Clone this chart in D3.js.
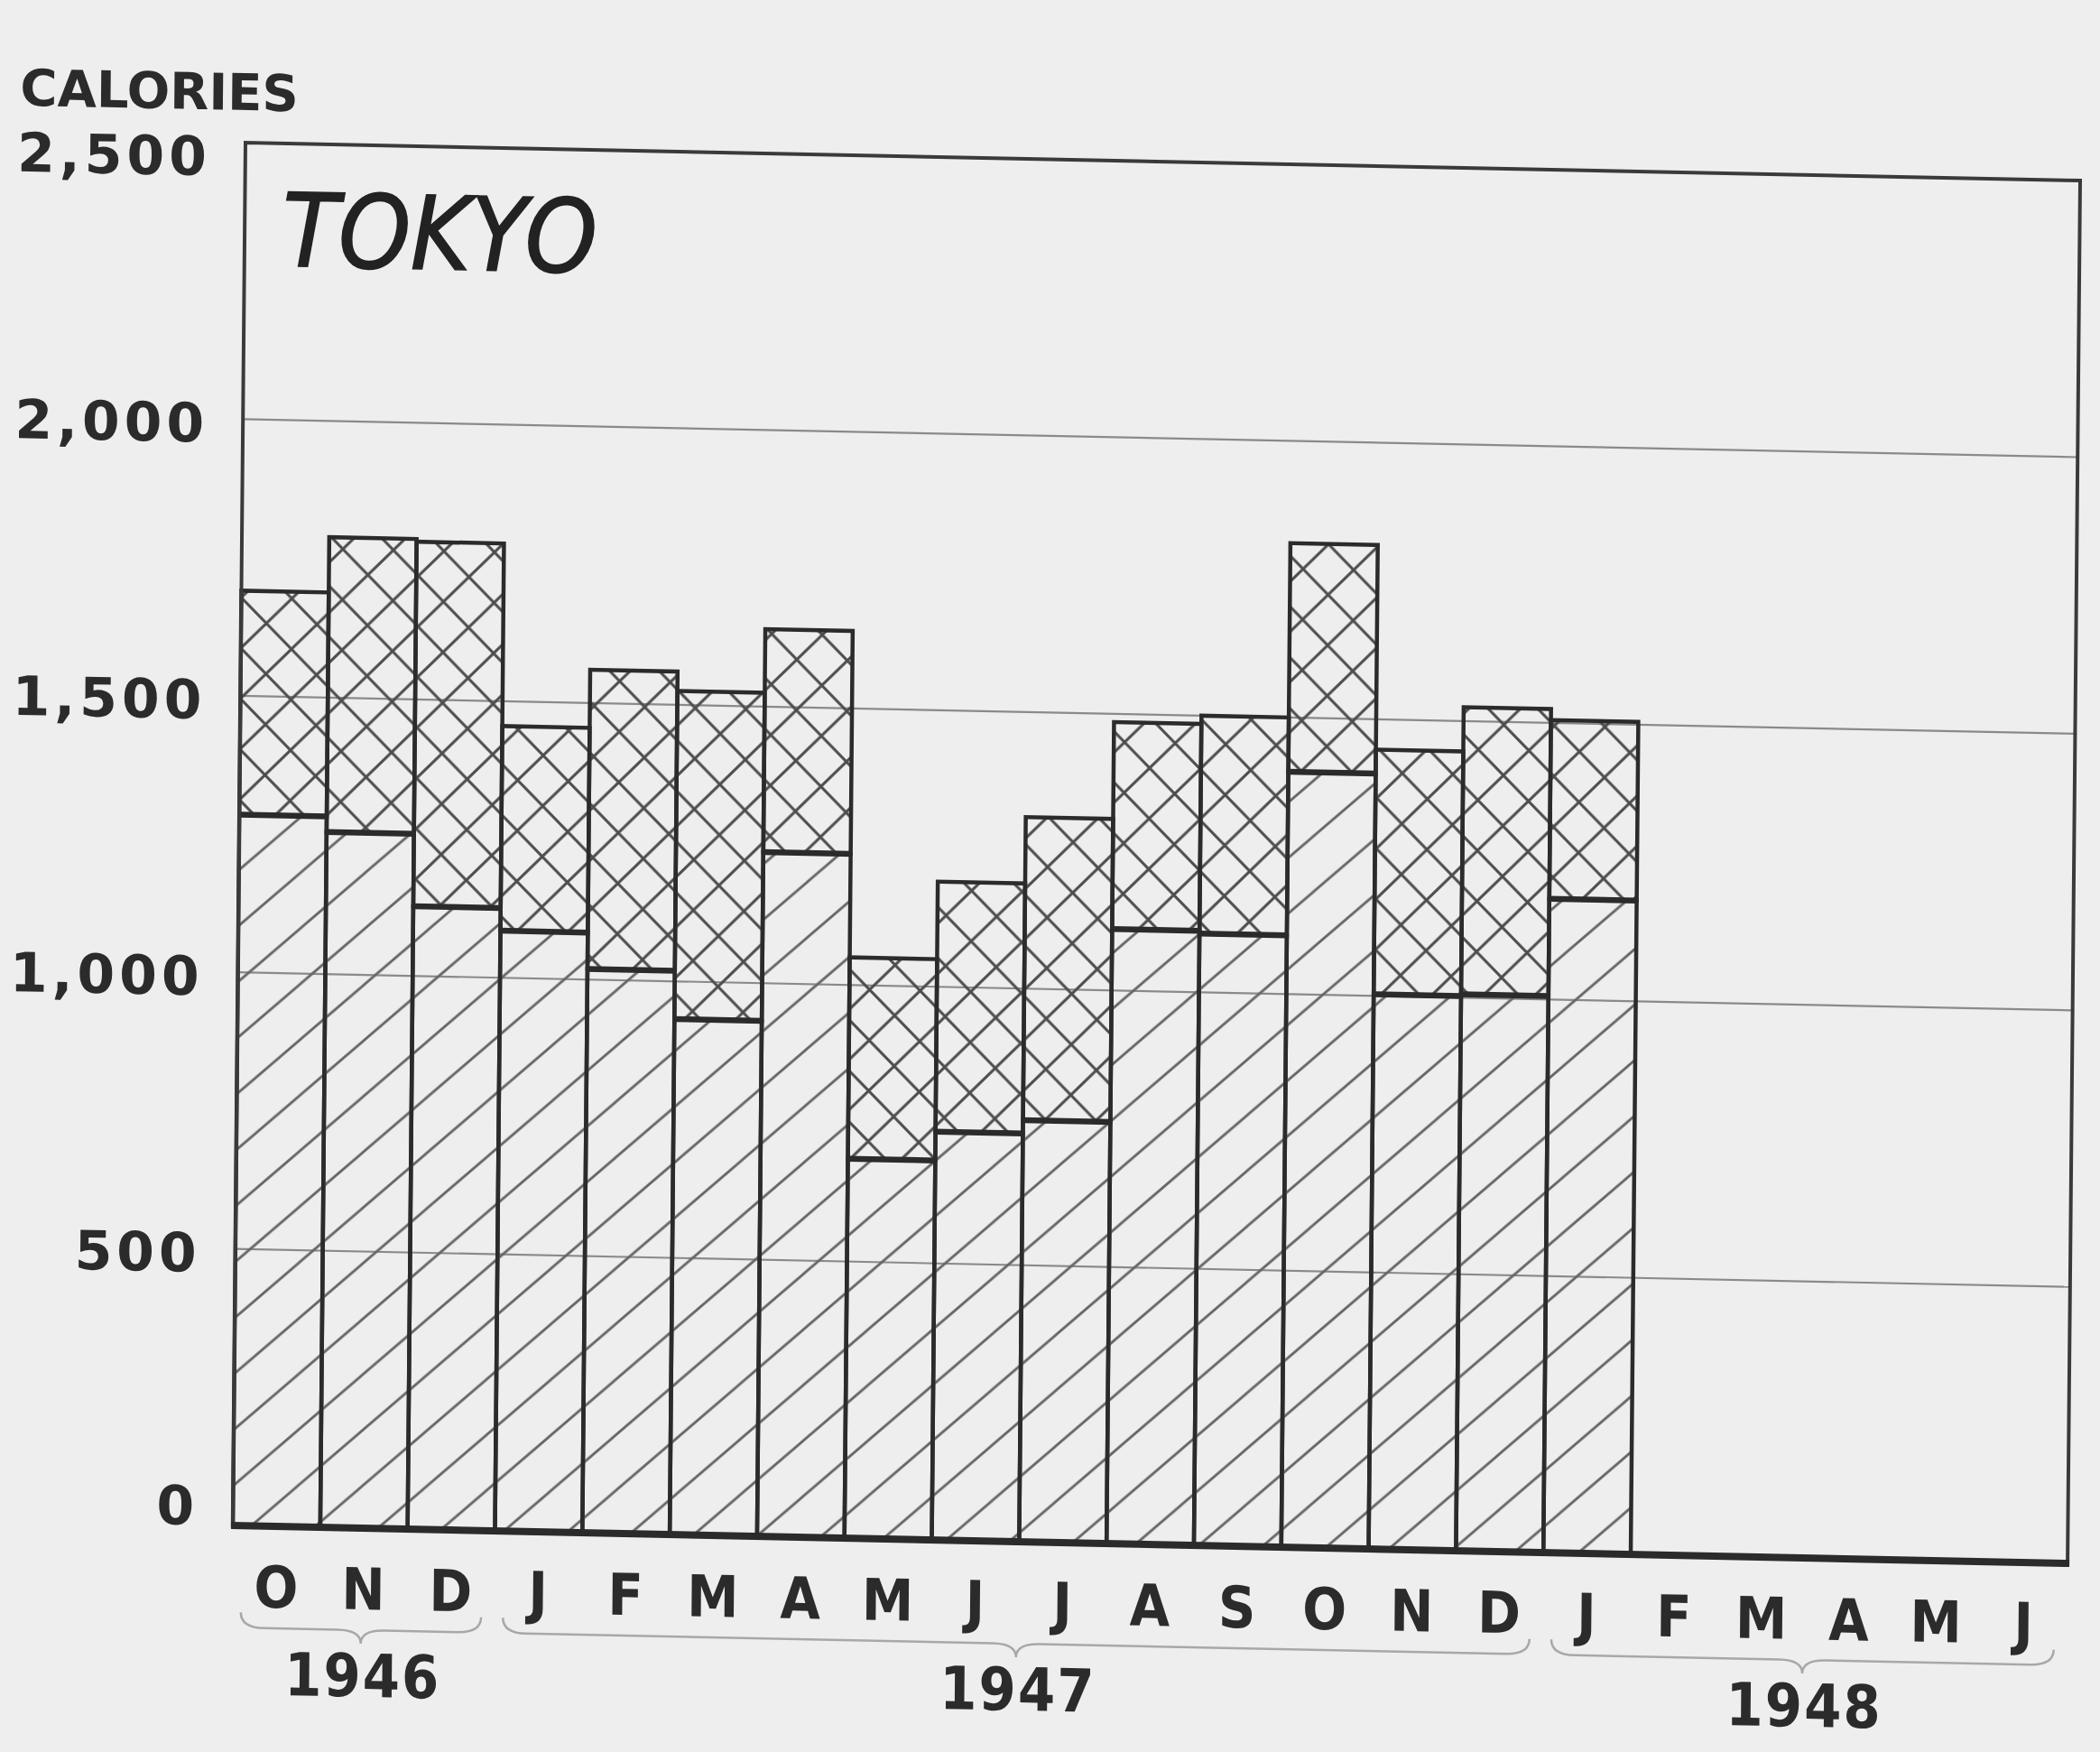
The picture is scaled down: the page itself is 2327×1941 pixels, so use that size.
<!DOCTYPE html>
<html>
<head>
<meta charset="utf-8">
<script src="https://cdn.jsdelivr.net/npm/d3@7"></script>
<style>
  html, body { margin: 0; padding: 0; background: #eeeeee; }
  svg { display: block; }
</style>
</head>
<body>
<script>
// ---------------- data ----------------
const months = ["O","N","D","J","F","M","A","M","J","J","A","S","O","N","D","J","F","M","A","M","J"];
const years = ["1946","1947","1948"];
const yearMonthCounts = [3, 12, 6];
// lower (diagonal-hatched) segment, calories
const lowerValues = [1285,1257,1126,1085,1019,932,1237,686,738,762,1111,1106,1402,1003,1006,1182];
// upper (cross-hatched) segment, calories
const upperValues = [405,533,659,370,541,593,403,364,452,548,374,394,413,442,519,323];
const yTicks = [0,500,1000,1500,2000,2500];
const title = "TOKYO";
const yUnit = "CALORIES";

// ---------------- layout ----------------
const WIDTH = 2327, HEIGHT = 1941;
const W = 2033, H = 1532;
const ink = "#2b2b2b";

const svg = d3.select("body").append("svg")
  .attr("width", WIDTH).attr("height", HEIGHT);

svg.append("rect").attr("width", WIDTH).attr("height", HEIGHT).attr("fill", "#eeeeee");

const defs = svg.append("defs");
const hw = 70, hh = 62;
const hatch = defs.append("pattern")
  .attr("id", "hatch").attr("patternUnits", "userSpaceOnUse")
  .attr("width", hw).attr("height", hh);
hatch.append("path")
  .attr("d", `M${-hw * 0.1},${hh * 1.1} L${hw * 1.1},${-hh * 0.1} M${-hw * 1.1},${hh * 1.1} L${hw * 0.1},${-hh * 0.1} M${hw * 0.9},${hh * 1.1} L${hw * 2.1},${-hh * 0.1}`)
  .attr("stroke", "#666").attr("stroke-width", 2.8).attr("fill", "none");

const cs = 56;
const cross = defs.append("pattern")
  .attr("id", "cross").attr("patternUnits", "userSpaceOnUse")
  .attr("width", cs).attr("height", cs);
cross.append("path").attr("d", `M-5,-5 L${cs + 5},${cs + 5} M-5,${cs + 5} L${cs + 5},-5`)
  .attr("stroke", "#4d4d4d").attr("stroke-width", 3).attr("fill", "none");

// scanned page is slightly skewed
const g = svg.append("g").attr("transform", "matrix(1,0.0207,-0.0091,1,272,158)");

const x = d3.scaleBand().domain(d3.range(months.length)).range([0, W]).padding(0);
const y = d3.scaleLinear().domain([0, 2500]).range([H, 0]);

// gridlines
g.append("g").selectAll("line").data(yTicks.filter(t => t > 0 && t < 2500)).join("line")
  .attr("x1", 0).attr("x2", W).attr("y1", d => y(d)).attr("y2", d => y(d))
  .attr("stroke", "#8a8a8a").attr("stroke-width", 2.2);

// stacked bars
const rows = lowerValues.map((v, i) => ({ idx: i, lower: v, upper: upperValues[i] }));
const stack = d3.stack().keys(["lower", "upper"])(rows);
const fills = { lower: "url(#hatch)", upper: "url(#cross)" };

g.append("g").selectAll("g").data(stack).join("g")
  .attr("fill", d => fills[d.key])
  .selectAll("rect").data(d => d).join("rect")
  .attr("x", d => x(d.data.idx))
  .attr("width", x.bandwidth())
  .attr("y", d => y(d[1]))
  .attr("height", d => y(d[0]) - y(d[1]))
  .attr("stroke", ink).attr("stroke-width", 4.5);

// split lines (heavier)
g.append("g").selectAll("line").data(stack[0]).join("line")
  .attr("x1", d => x(d.data.idx)).attr("x2", d => x(d.data.idx) + x.bandwidth())
  .attr("y1", d => y(d[1])).attr("y2", d => y(d[1]))
  .attr("stroke", ink).attr("stroke-width", 6.5);

// frame
g.append("path")
  .attr("d", `M0,${H} L0,0 L${W},0 L${W},${H}`)
  .attr("fill", "none").attr("stroke", "#3a3a3a").attr("stroke-width", 4);
g.append("line").attr("x1", -2).attr("x2", W + 2).attr("y1", H).attr("y2", H)
  .attr("stroke", ink).attr("stroke-width", 8);

// y axis labels
const yAxis = g.append("g").call(
  d3.axisLeft(y).tickValues(yTicks).tickFormat(d3.format(",")).tickSize(0).tickPadding(38));
yAxis.select(".domain").remove();
yAxis.selectAll("text")
  .attr("y", d => d === 2500 ? 15 : (d === 0 ? -22 : 4))
  .attr("dy", "0.36em")
  .attr("fill", ink)
  .style("font-family", "'DejaVu Sans'").style("font-weight", "bold")
  .style("font-size", "60px").style("letter-spacing", "5px");

// month labels
const xAxis = g.append("g").attr("transform", `translate(0,${H})`).call(
  d3.axisBottom(x).tickFormat(i => months[i]).tickSize(0));
xAxis.select(".domain").remove();
xAxis.selectAll("text")
  .attr("y", 67).attr("dy", "0.36em")
  .attr("fill", ink)
  .style("font-family", "'DejaVu Sans Condensed', 'DejaVu Sans'").style("font-weight", "bold")
  .style("font-size", "64px");

// year braces and labels
let start = 0;
const groups = years.map((yr, k) => {
  const s = start, e = start + yearMonthCounts[k];
  start = e;
  return { yr, s, e };
});
const step = x.step();
const vTop = 1628, vBody = 1645, vTip = 1660, r = 26;
g.append("g").selectAll("path").data(groups).join("path")
  .attr("d", d => {
    const x0 = d.s * step + step * 0.1, x1 = d.e * step - step * 0.15, xc = (x0 + x1) / 2;
    return `M${x0},${vTop} Q${x0},${vBody} ${x0 + r},${vBody} L${xc - r},${vBody} Q${xc},${vBody} ${xc},${vTip} ` +
           `Q${xc},${vBody} ${xc + r},${vBody} L${x1 - r},${vBody} Q${x1},${vBody} ${x1},${vTop}`;
  })
  .attr("fill", "none").attr("stroke", "#a8a8a8").attr("stroke-width", 2.5);

g.append("g").selectAll("text").data(groups).join("text")
  .attr("x", d => (d.s + d.e) / 2 * step)
  .attr("y", 1695).attr("dy", "0.36em")
  .attr("text-anchor", "middle").attr("fill", ink)
  .style("font-family", "'DejaVu Sans Condensed', 'DejaVu Sans'").style("font-weight", "bold")
  .style("font-size", "66px").style("letter-spacing", "2px")
  .text(d => d.yr);

// unit label and title
g.append("text").attr("x", -250).attr("y", -36).attr("fill", ink)
  .style("font-family", "'DejaVu Sans'").style("font-weight", "bold").style("font-size", "56px")
  .text(yUnit);

g.append("text").attr("x", 42).attr("y", 136).attr("fill", "#222")
  .attr("stroke", "#222").attr("stroke-width", 1.5)
  .style("font-family", "'DejaVu Sans Condensed', 'DejaVu Sans'").style("font-style", "oblique")
  .style("font-size", "113px")
  .text(title);
</script>
</body>
</html>
